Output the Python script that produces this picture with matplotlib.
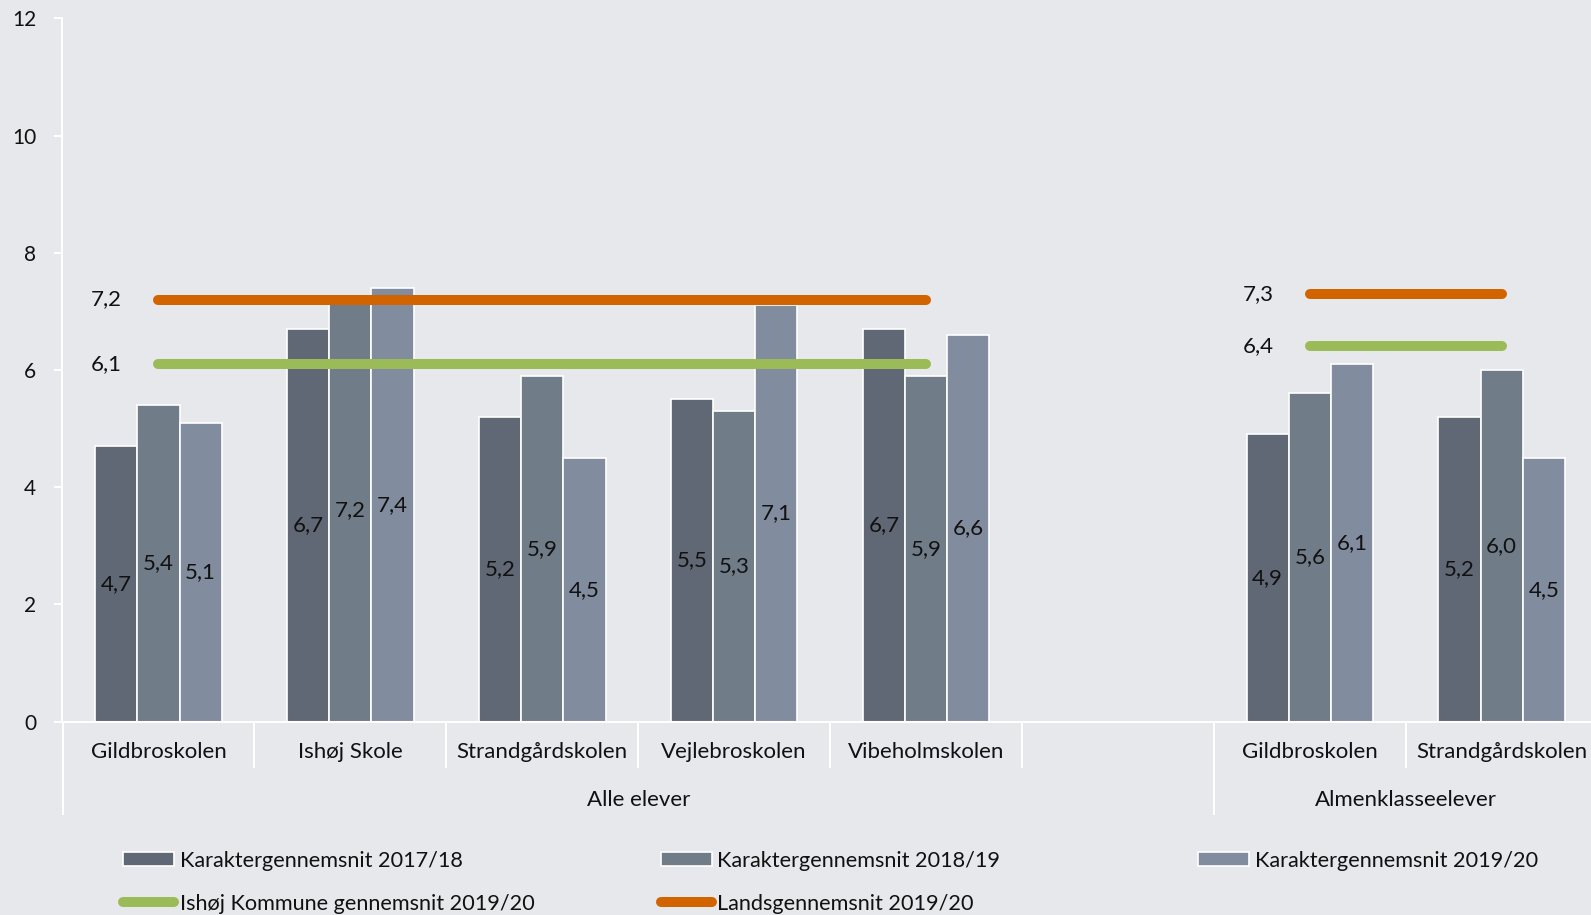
import matplotlib
matplotlib.use('Agg')
import matplotlib.pyplot as plt
from matplotlib.patches import Patch
from matplotlib.lines import Line2D
import numpy as np

# ---------------- data ----------------
schools = ['Gildbroskolen', 'Ishøj Skole', 'Strandgårdskolen', 'Vejlebroskolen',
           'Vibeholmskolen', '', 'Gildbroskolen', 'Strandgårdskolen']
groups = ['Alle elever', 'Almenklasseelever']
group_sizes = [6, 2]
nan = np.nan
avg_1718 = [4.7, 6.7, 5.2, 5.5, 6.7, nan, 4.9, 5.2]
avg_1819 = [5.4, 7.2, 5.9, 5.3, 5.9, nan, 5.6, 6.0]
avg_1920 = [5.1, 7.4, 4.5, 7.1, 6.6, nan, 6.1, 4.5]
kommune_1920 = [6.1, 6.1, 6.1, 6.1, 6.1, nan, 6.4, 6.4]
lands_1920 = [7.2, 7.2, 7.2, 7.2, 7.2, nan, 7.3, 7.3]
series_names = ['Karaktergennemsnit 2017/18', 'Karaktergennemsnit 2018/19',
                'Karaktergennemsnit 2019/20']
line_names = ['Ishøj Kommune gennemsnit 2019/20', 'Landsgennemsnit 2019/20']
y_ticks = [0, 2, 4, 6, 8, 10, 12]

# ---------------- style ----------------
BG = '#E6E8EC'
BAR_COLORS = ['#606875', '#717C89', '#818D9E']
GREEN = '#9BBB59'
ORANGE = '#D26400'
TXT = '#111111'
FONT = 'Lato'
plt.rcParams['font.family'] = [FONT, 'DejaVu Sans']

W, H, DPI = 1591, 915, 100
fig = plt.figure(figsize=(W / DPI, H / DPI), dpi=DPI, facecolor=BG)

ax_left, ax_bottom_px, ax_top_px = 62.5, 721.5, 18.3
slot_px = 191.9
n = len(schools)
ax = fig.add_axes([ax_left / W, (H - ax_bottom_px) / H,
                   n * slot_px / W, (ax_bottom_px - ax_top_px) / H])
ax.set_facecolor(BG)

x = np.arange(n)
bw = 0.22
for i, (vals, col) in enumerate(zip([avg_1718, avg_1819, avg_1920], BAR_COLORS)):
    vals = np.array(vals)
    m = ~np.isnan(vals)
    cont = ax.bar(x[m] + (i - 1) * bw, vals[m], width=bw, color=col,
                  edgecolor='white', linewidth=1.2, zorder=2)
    ax.bar_label(cont, labels=[f'{v:.1f}'.replace('.', ',') for v in vals[m]],
                 label_type='center', fontsize=16, color=TXT, zorder=5)

for vals, col in [(kommune_1920, GREEN), (lands_1920, ORANGE)]:
    ax.plot(x, vals, color=col, linewidth=7.2, solid_capstyle='round', zorder=4)
    vals = np.array(vals)
    for j in range(n):
        if not np.isnan(vals[j]) and (j == 0 or np.isnan(vals[j - 1])):
            ax.annotate(f'{vals[j]:.1f}'.replace('.', ','), (x[j], vals[j]),
                        xytext=(-52, 0), textcoords='offset pixels',
                        ha='center', va='center', fontsize=16, color=TXT)

ax.set_xlim(-0.5, n - 0.5)
ax.set_ylim(0, 12)
ax.set_yticks(y_ticks)
ax.set_yticklabels([str(t) for t in y_ticks], fontsize=15, color=TXT)
ax.tick_params(axis='y', colors='white', length=5.8, width=1.5, pad=13,
               labelcolor=TXT)
ax.set_xticks([])
for s in ['top', 'right']:
    ax.spines[s].set_visible(False)
for s in ['left', 'bottom']:
    ax.spines[s].set_color('white')
    ax.spines[s].set_linewidth(1.5)

# category labels and separators
trans = ax.get_xaxis_transform()
axh = ax_bottom_px - ax_top_px
for j, name in enumerate(schools):
    ax.annotate(name, (x[j], 0), xycoords=trans, xytext=(0, -30.5),
                textcoords='offset pixels', ha='center', va='center',
                fontsize=16, color=TXT)
bounds = np.concatenate([[0], np.cumsum(group_sizes)]) - 0.5
for b in np.arange(-0.5, n, 1.0):
    long = np.any(np.isclose(bounds, b))
    y2 = -(92.5 if long else 45.5) / axh
    ax.plot([b, b], [0, y2], transform=trans, color='white', linewidth=1.5,
            clip_on=False, zorder=1)
for g, name in enumerate(groups):
    c = (bounds[g] + bounds[g + 1]) / 2
    ax.annotate(name, (c, 0), xycoords=trans, xytext=(0, -78.5),
                textcoords='offset pixels', ha='center', va='center',
                fontsize=16, color=TXT)

# legend
bar_handles = [Patch(facecolor=c, edgecolor='white', linewidth=1.2) for c in BAR_COLORS]
line_handles = [Line2D([], [], color=GREEN, linewidth=7.2, solid_capstyle='round'),
                Line2D([], [], color=ORANGE, linewidth=7.2, solid_capstyle='round')]
cols = [([bar_handles[0], line_handles[0]], [series_names[0], line_names[0]], 122.8),
        ([bar_handles[1], line_handles[1]], [series_names[1], line_names[1]], 660.6),
        ([bar_handles[2]], [series_names[2]], 1198.4)]
for hs, ls, xp in cols:
    leg = fig.legend(hs, ls, loc='upper left', bbox_to_anchor=(xp / W, (H - 851) / H),
                     frameon=False, fontsize=15.6, handlelength=2.35, handleheight=0.6,
                     handletextpad=0.27, labelspacing=1.05, borderpad=0,
                     borderaxespad=0)
    for t in leg.get_texts():
        t.set_color(TXT)

fig.savefig('out.png', dpi=DPI, facecolor=BG)
